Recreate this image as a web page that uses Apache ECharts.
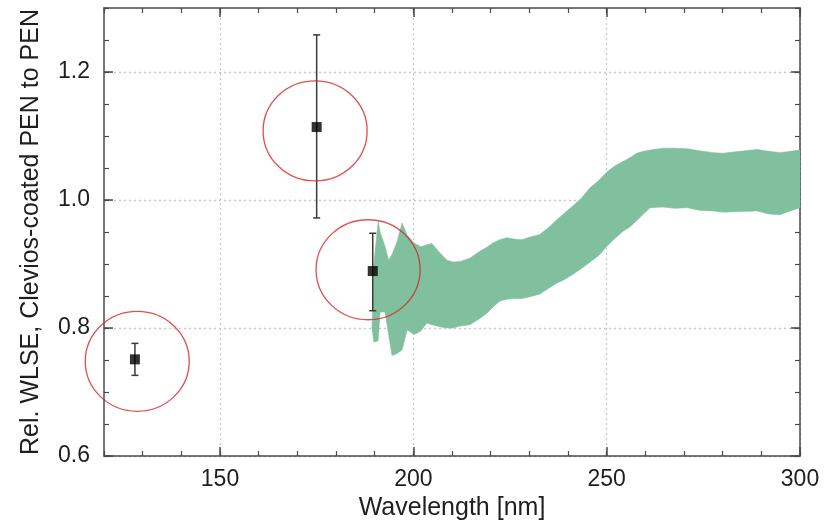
<!DOCTYPE html>
<html>
<head>
<meta charset="utf-8">
<script src="https://cdn.jsdelivr.net/npm/echarts@6/dist/echarts.min.js"></script>
<style>
html,body{margin:0;padding:0;background:#fff;}
#chart{width:834px;height:520px;}
</style>
</head>
<body>
<div id="chart"></div>
<script>
// ---- data ----
var xMajorTicks = [150, 200, 250, 300];
var yMajorTicks = [0.6, 0.8, 1.0, 1.2];

// measured points: [wavelength, value]
var pointX = [128, 175, 189.5];
var pointY = [0.751, 1.114, 0.889];
var errLow = [0.726, 0.972, 0.827];
var errHigh = [0.776, 1.258, 0.948];

// highlight circles (centres, data coords)
var circleX = [128.6, 174.6, 188.3];
var circleY = [0.748, 1.108, 0.891];

// uncertainty band
var bandX = [189.3, 189.8, 190.9, 191.4, 192.7, 193.6, 194.5, 195.8, 197.1, 198.4,
  200.2, 201.9, 203.5, 204.8, 206.9, 208.7, 210.3, 212.1, 214.6, 217.2,
  219.0, 220.6, 222.4, 224.2, 226.0, 228.1, 230.2, 232.7, 235.0, 237.1,
  239.2, 241.3, 243.5, 245.7, 247.9, 250.1, 252.1, 254.2, 256.0, 257.8,
  259.5, 261.2, 264.6, 267.7, 270.8, 274.0, 277.5, 280.1, 284.5, 288.9,
  292.0, 294.8, 297.5, 300.0];
var bandLower = [0.800, 0.778, 0.780, 0.825, 0.825, 0.790, 0.757, 0.760, 0.766, 0.797,
  0.790, 0.795, 0.808, 0.805, 0.802, 0.800, 0.800, 0.803, 0.805, 0.815,
  0.823, 0.833, 0.842, 0.845, 0.846, 0.846, 0.849, 0.853, 0.862, 0.870,
  0.876, 0.884, 0.893, 0.903, 0.913, 0.928, 0.940, 0.951, 0.958, 0.968,
  0.978, 0.988, 0.989, 0.987, 0.988, 0.984, 0.983, 0.981, 0.982, 0.983,
  0.978, 0.977, 0.983, 0.988];
var bandUpper = [0.800, 0.900, 0.966, 0.950, 0.927, 0.906, 0.915, 0.935, 0.964, 0.945,
  0.933, 0.927, 0.930, 0.932, 0.917, 0.906, 0.903, 0.904, 0.909, 0.920,
  0.926, 0.933, 0.938, 0.941, 0.939, 0.938, 0.942, 0.946, 0.957, 0.969,
  0.980, 0.991, 1.003, 1.019, 1.030, 1.044, 1.053, 1.060, 1.066, 1.073,
  1.076, 1.078, 1.081, 1.081, 1.080, 1.077, 1.074, 1.073, 1.076, 1.079,
  1.076, 1.074, 1.076, 1.078];

var xTitle = 'Wavelength [nm]';
var yTitle = 'Rel. WLSE, Clevios-coated PEN to PEN';

// ---- build ----
var FONT = '"Liberation Sans", Arial, sans-serif';
var AX = '#4a4a4a';
var TXT = '#1e1e1e';

var bandData = bandX.map(function (x, i) { return [x, bandLower[i], bandUpper[i]]; });
var points = pointX.map(function (x, i) { return [x, pointY[i]]; });
var errData = pointX.map(function (x, i) { return [x, errLow[i], errHigh[i]]; });
var circles = circleX.map(function (x, i) { return [x, circleY[i]]; });

function majorX(pos, showLabel, showSplit) {
  return {
    type: 'value', min: 120, max: 300, position: pos, gridIndex: 0,
    axisLine: { show: true, onZero: false, lineStyle: { color: AX, width: 1.5 } },
    axisTick: { show: true, inside: true, length: 9, customValues: xMajorTicks, lineStyle: { color: AX, width: 1.5 } },
    axisLabel: { show: showLabel, customValues: xMajorTicks, color: TXT, fontSize: 23, fontFamily: FONT, margin: 12 },
    splitLine: { show: showSplit, lineStyle: { color: '#c8c8c8', type: [2, 3], width: 1.3 } },
    name: showLabel ? xTitle : '', nameLocation: 'middle', nameGap: 38,
    nameTextStyle: { color: TXT, fontSize: 25, fontFamily: FONT }
  };
}
function minorX(pos) {
  return {
    type: 'value', min: 120, max: 300, interval: 10, position: pos, gridIndex: 0,
    axisLine: { show: false },
    axisTick: { show: true, inside: true, length: 5, lineStyle: { color: AX, width: 1.2 } },
    axisLabel: { show: false }, splitLine: { show: false }
  };
}
function majorY(pos, showLabel, showSplit) {
  return {
    type: 'value', min: 0.6, max: 1.3, position: pos, gridIndex: 0,
    axisLine: { show: true, onZero: false, lineStyle: { color: AX, width: 1.5 } },
    axisTick: { show: true, inside: true, length: 9, customValues: yMajorTicks, lineStyle: { color: AX, width: 1.5 } },
    axisLabel: { show: showLabel, customValues: yMajorTicks, color: TXT, fontSize: 23, fontFamily: FONT, margin: 14,
      formatter: function (v) { return v.toFixed(1); } },
    splitLine: { show: showSplit, lineStyle: { color: '#c8c8c8', type: [2, 3], width: 1.3 } },
    name: showLabel ? yTitle : '', nameLocation: 'middle', nameGap: 60,
    nameTextStyle: { color: TXT, fontSize: 25, fontFamily: FONT }
  };
}
function minorY(pos) {
  return {
    type: 'value', min: 0.6, max: 1.3, interval: 0.05, position: pos, gridIndex: 0,
    axisLine: { show: false },
    axisTick: { show: true, inside: true, length: 5, lineStyle: { color: AX, width: 1.2 } },
    axisLabel: { show: false }, splitLine: { show: false }
  };
}

var chart = echarts.init(document.getElementById('chart'), null, { renderer: 'canvas' });
chart.setOption({
  animation: false,
  backgroundColor: '#ffffff',
  grid: { left: 104, right: 34, top: 8, bottom: 64, containLabel: false, outerBoundsMode: 'none' },
  xAxis: [majorX('bottom', true, true), minorX('bottom'), majorX('top', false, false), minorX('top')],
  yAxis: [majorY('left', true, true), minorY('left'), majorY('right', false, false), minorY('right')],
  series: [
    {
      type: 'custom', data: [0], z: 2, silent: true, clip: true,
      renderItem: function (params, api) {
        var pts = [];
        for (var i = 0; i < bandData.length; i++) pts.push(api.coord([bandData[i][0], bandData[i][2]]));
        for (var j = bandData.length - 1; j >= 0; j--) pts.push(api.coord([bandData[j][0], bandData[j][1]]));
        return { type: 'polygon', shape: { points: pts }, style: { fill: '#80c09f', stroke: '#80c09f', lineWidth: 0.6 } };
      }
    },
    {
      type: 'custom', data: errData, z: 5,
      renderItem: function (params, api) {
        var x = api.value(0);
        var lo = api.coord([x, api.value(1)]);
        var hi = api.coord([x, api.value(2)]);
        var cap = 3.5;
        var st = { stroke: '#3a3a3a', lineWidth: 1.5 };
        return {
          type: 'group',
          children: [
            { type: 'line', shape: { x1: lo[0], y1: lo[1], x2: hi[0], y2: hi[1] }, style: st },
            { type: 'line', shape: { x1: lo[0] - cap, y1: lo[1], x2: lo[0] + cap, y2: lo[1] }, style: st },
            { type: 'line', shape: { x1: hi[0] - cap, y1: hi[1], x2: hi[0] + cap, y2: hi[1] }, style: st }
          ]
        };
      }
    },
    {
      type: 'scatter', data: points, symbol: 'rect', symbolSize: 10,
      itemStyle: { color: '#000000' }, z: 6
    },
    {
      type: 'scatter', data: circles, symbol: 'circle', symbolSize: [104, 100],
      itemStyle: { color: 'rgba(0,0,0,0)', borderColor: '#d42626', borderWidth: 1.3 }, z: 7, silent: true
    }
  ]
});
</script>
</body>
</html>
